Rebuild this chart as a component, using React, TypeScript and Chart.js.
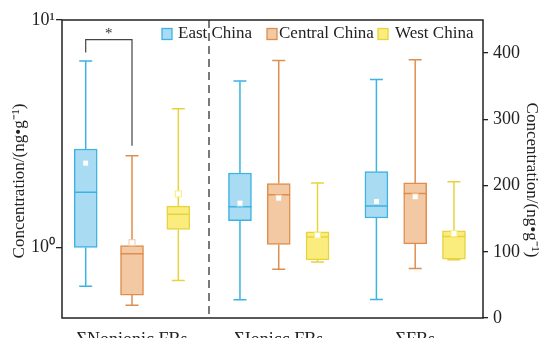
import React, { useEffect, useRef } from "react";
import { Chart, registerables } from "chart.js";

Chart.register(...registerables);

const FONT = '"Liberation Serif", "Times New Roman", serif';

// Categories
const REGIONS = ["East China", "Central China", "West China"];
const GROUPS = ["ΣNonionic FBs", "ΣIonicc FBs", "ΣFBs"];
const GROUP_POS = [0.511, 1.582, 2.578];
const BOX_SPACING = [0.338, 0.283, 0.283];
const DIVIDER_X = 1.073;
const X_MAX = 3.073;

// Axis ticks
const LEFT_TICKS = [1, 10];
const LEFT_TICK_LABELS = ["10⁰", "10¹"];
const RIGHT_TICKS = [0, 100, 200, 300, 400];

// Box statistics: index 0 = ΣNonionic FBs (left, log axis), 1 = ΣIonicc FBs, 2 = ΣFBs (right axis)
const EAST_MIN = [0.676, 27.7, 28];
const EAST_Q1 = [1.0, 147, 151];
const EAST_MED = [1.75, 168, 169];
const EAST_Q3 = [2.71, 219, 221];
const EAST_MAX = [6.61, 358, 360];
const EAST_MEAN = [2.35, 173.5, 176];

const CENTRAL_MIN = [0.558, 73.7, 74.6];
const CENTRAL_Q1 = [0.618, 111, 112];
const CENTRAL_MED = [0.938, 186, 188];
const CENTRAL_Q3 = [1.02, 203, 204];
const CENTRAL_MAX = [2.53, 389, 390];
const CENTRAL_MEAN = [1.05, 181, 183];

const WEST_MIN = [0.717, 84.7, 88];
const WEST_Q1 = [1.2, 87.7, 88.8];
const WEST_MED = [1.4, 122.5, 123];
const WEST_Q3 = [1.52, 130, 131.6];
const WEST_MAX = [4.07, 204, 205.7];
const WEST_MEAN = [1.72, 125, 127.5];

// Significance bracket between East and Central (ΣNonionic FBs), left-axis values
const BRACKET_TOP = 8.2;
const BRACKET_LEFT_END = 7.2;
const BRACKET_RIGHT_END = 2.8;
const BRACKET_LABEL = "*";

const BORDERS = ["#3cb3e2", "#de8e4e", "#e8d33e"];
const FILLS = ["#a9dbf2", "#f2c9a3", "#faec7d"];

const STATS = [
  { min: EAST_MIN, q1: EAST_Q1, med: EAST_MED, q3: EAST_Q3, max: EAST_MAX, mean: EAST_MEAN },
  { min: CENTRAL_MIN, q1: CENTRAL_Q1, med: CENTRAL_MED, q3: CENTRAL_Q3, max: CENTRAL_MAX, mean: CENTRAL_MEAN },
  { min: WEST_MIN, q1: WEST_Q1, med: WEST_MED, q3: WEST_Q3, max: WEST_MAX, mean: WEST_MEAN },
];

const BOX_W = 23;
const CAP_W = 13;

function xPos(g: number, r: number) {
  return GROUP_POS[g] + (r - 1) * BOX_SPACING[g];
}

function buildDatasets() {
  const out: any[] = [];
  REGIONS.forEach((label, r) => {
    const s = STATS[r];
    const mk = (groups: number[], axis: string) => ({
      type: "bar",
      label,
      xAxisID: "x",
      yAxisID: axis,
      data: groups.map((g) => ({ x: xPos(g, r), y: [s.q1[g], s.q3[g]] })),
      stats: groups.map((g) => ({
        min: s.min[g],
        q1: s.q1[g],
        med: s.med[g],
        q3: s.q3[g],
        max: s.max[g],
        mean: s.mean[g],
      })),
      backgroundColor: FILLS[r],
      borderColor: BORDERS[r],
      borderWidth: 1.5,
      borderSkipped: false,
      barThickness: BOX_W,
      grouped: false,
    });
    out.push(mk([0], "yL"));
    out.push(mk([1, 2], "yR"));
  });
  return out;
}

const extrasPlugin = {
  id: "boxExtras",
  beforeDatasetsDraw(chart: any) {
    const { ctx, chartArea } = chart;
    const x = chart.scales.x.getPixelForValue(DIVIDER_X);
    ctx.save();
    ctx.strokeStyle = "#333";
    ctx.lineWidth = 1.3;
    ctx.setLineDash([8, 5]);
    ctx.beginPath();
    ctx.moveTo(x, chartArea.top);
    ctx.lineTo(x, chartArea.bottom);
    ctx.stroke();
    ctx.restore();
  },
  afterDatasetsDraw(chart: any) {
    const { ctx } = chart;
    const xs = chart.scales.x;
    chart.data.datasets.forEach((ds: any) => {
      const ys = chart.scales[ds.yAxisID];
      ds.stats.forEach((s: any, j: number) => {
        const x = xs.getPixelForValue(ds.data[j].x);
        const py = (v: number) => ys.getPixelForValue(v);
        ctx.save();
        ctx.strokeStyle = ds.borderColor;
        ctx.lineWidth = 1.5;
        ctx.beginPath();
        ctx.moveTo(x, py(s.max));
        ctx.lineTo(x, py(s.q3));
        ctx.moveTo(x, py(s.q1));
        ctx.lineTo(x, py(s.min));
        ctx.moveTo(x - CAP_W / 2, py(s.max));
        ctx.lineTo(x + CAP_W / 2, py(s.max));
        ctx.moveTo(x - CAP_W / 2, py(s.min));
        ctx.lineTo(x + CAP_W / 2, py(s.min));
        ctx.moveTo(x - BOX_W / 2, py(s.med));
        ctx.lineTo(x + BOX_W / 2, py(s.med));
        ctx.stroke();
        const my = py(s.mean);
        ctx.fillStyle = "#ffffff";
        ctx.fillRect(x - 3, my - 3, 6, 6);
        ctx.strokeStyle = ds.backgroundColor;
        ctx.lineWidth = 1;
        ctx.strokeRect(x - 3, my - 3, 6, 6);
        ctx.restore();
      });
    });
  },
  afterDraw(chart: any) {
    const { ctx, chartArea } = chart;
    const xs = chart.scales.x;
    const yl = chart.scales.yL;
    ctx.save();
    // frame
    ctx.strokeStyle = "#222";
    ctx.lineWidth = 1.5;
    ctx.strokeRect(chartArea.left, chartArea.top, chartArea.right - chartArea.left, chartArea.bottom - chartArea.top);

    // significance bracket
    const x1 = xs.getPixelForValue(xPos(0, 0));
    const x2 = xs.getPixelForValue(xPos(0, 1));
    const yt = yl.getPixelForValue(BRACKET_TOP);
    ctx.strokeStyle = "#444";
    ctx.lineWidth = 1.2;
    ctx.beginPath();
    ctx.moveTo(x1, yl.getPixelForValue(BRACKET_LEFT_END));
    ctx.lineTo(x1, yt);
    ctx.lineTo(x2, yt);
    ctx.lineTo(x2, yl.getPixelForValue(BRACKET_RIGHT_END));
    ctx.stroke();
    ctx.fillStyle = "#333";
    ctx.font = `15px ${FONT}`;
    ctx.textAlign = "center";
    ctx.textBaseline = "middle";
    ctx.fillText(BRACKET_LABEL, (x1 + x2) / 2, yt - 6);

    // legend
    const boxX = [162, 267, 378];
    const textX = [178, 279, 395];
    const ly = 34;
    ctx.font = `17px ${FONT}`;
    ctx.textAlign = "left";
    REGIONS.forEach((name, r) => {
      ctx.fillStyle = FILLS[r];
      ctx.fillRect(boxX[r], ly - 5.5, 10, 11);
      ctx.strokeStyle = BORDERS[r];
      ctx.lineWidth = 1.3;
      ctx.strokeRect(boxX[r], ly - 5.5, 10, 11);
      ctx.fillStyle = "#222";
      ctx.fillText(name, textX[r], ly);
    });

    // axis titles
    const title = "Concentration/(ng•g⁻¹)";
    ctx.font = `17px ${FONT}`;
    ctx.fillStyle = "#222";
    ctx.textAlign = "center";
    ctx.textBaseline = "middle";
    ctx.save();
    ctx.translate(20, 181);
    ctx.rotate(-Math.PI / 2);
    ctx.fillText(title, 0, 0);
    ctx.restore();
    ctx.save();
    ctx.translate(531, 180);
    ctx.rotate(Math.PI / 2);
    ctx.fillText(title, 0, 0);
    ctx.restore();
    ctx.restore();
  },
};

export default function App() {
  const ref = useRef<HTMLCanvasElement>(null);
  useEffect(() => {
    const chart = new Chart(ref.current as HTMLCanvasElement, {
      type: "bar",
      data: { datasets: buildDatasets() } as any,
      options: {
        animation: false,
        responsive: false,
        layout: { padding: { top: 20, left: 0, right: 0, bottom: 0 } },
        plugins: { legend: { display: false }, tooltip: { enabled: false } },
        scales: {
          x: {
            type: "linear",
            min: 0,
            max: X_MAX,
            offset: false,
            grid: { display: false },
            border: { display: false },
            afterBuildTicks: (s: any) => {
              s.ticks = GROUP_POS.map((v) => ({ value: v }));
            },
            afterFit: (s: any) => {
              s.height = 20;
            },
            ticks: {
              autoSkip: false,
              maxRotation: 0,
              padding: 3,
              color: "#222",
              font: { family: FONT, size: 18 },
              callback: (_v: any, i: number) => GROUPS[i],
            },
          },
          yL: {
            type: "logarithmic",
            position: "left",
            min: 0.49,
            max: 10,
            grid: { drawOnChartArea: false, tickLength: 6, color: "#222", lineWidth: 1.3 },
            border: { display: false },
            afterBuildTicks: (s: any) => {
              s.ticks = LEFT_TICKS.map((v) => ({ value: v }));
            },
            afterFit: (s: any) => {
              s.width = 62;
            },
            ticks: {
              padding: 1,
              color: "#222",
              font: { family: FONT, size: 18 },
              callback: (v: any) => LEFT_TICK_LABELS[LEFT_TICKS.indexOf(Number(v))] ?? "",
            },
          },
          yR: {
            type: "linear",
            position: "right",
            min: 0,
            max: 450,
            grid: { drawOnChartArea: false, tickLength: 5, color: "#222", lineWidth: 1.3 },
            border: { display: false },
            afterBuildTicks: (s: any) => {
              s.ticks = RIGHT_TICKS.map((v) => ({ value: v }));
            },
            afterFit: (s: any) => {
              s.width = 56;
            },
            ticks: {
              padding: 5,
              color: "#222",
              font: { family: FONT, size: 18 },
              callback: (v: any) => String(v),
            },
          },
        },
      } as any,
      plugins: [extrasPlugin as any],
    });
    return () => chart.destroy();
  }, []);
  return (
    <div style={{ position: "fixed", left: 0, top: 0, width: 539, height: 338, background: "#fff" }}>
      <canvas ref={ref} width={539} height={338} style={{ display: "block" }} />
    </div>
  );
}
